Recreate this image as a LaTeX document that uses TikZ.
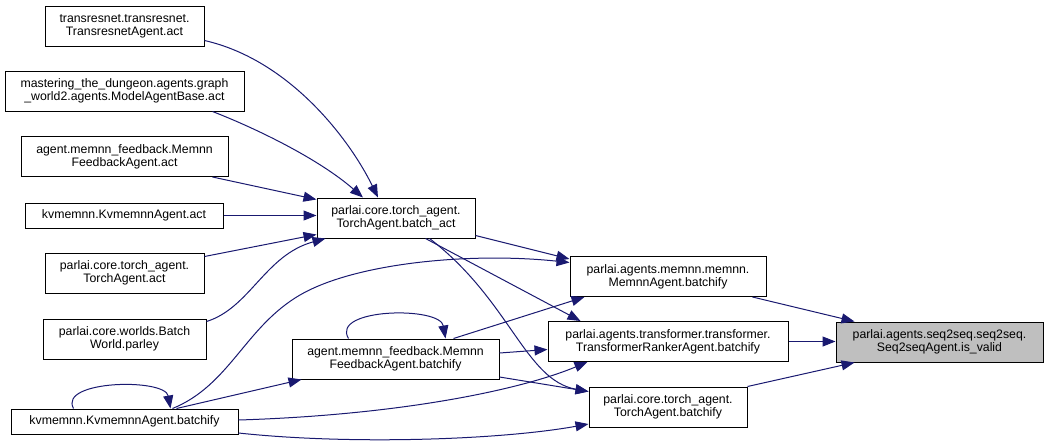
\documentclass[tikz,border=0pt]{standalone}
\usepackage{fontspec}
\setmainfont{Liberation Sans}
\usetikzlibrary{arrows.meta, calc}
\definecolor{callblue}{HTML}{191970}
\definecolor{hilite}{HTML}{BFBFBF}

\begin{document}
\begin{tikzpicture}[x=1pt, y=-1pt,
  fn/.style={draw=black, fill=white, line width=1pt, align=center, minimum height=40pt, inner sep=1pt, font={\fontsize{12.3}{12.7}\selectfont}},
  fnline/.style={fn, minimum height=25pt},
  call/.style={draw=callblue, line width=1pt, -{Triangle[length=13pt,width=10pt]}}]
  \useasboundingbox (0,0) rectangle (1048,447);
  % callers on the left
  \node[fn, minimum width=159pt] (trans) at (124.5,26) {transresnet.transresnet.\\TransresnetAgent.act};
  \node[fn, minimum width=239pt] (mast) at (124.5,91) {mastering\_the\_dungeon.agents.graph\\\_world2.agents.ModelAgentBase.act};
  \node[fn, minimum width=207pt] (fbact) at (124.5,156.5) {agent.memnn\_feedback.Memnn\\FeedbackAgent.act};
  \node[fnline, minimum width=198pt] (kvact) at (124,215.5) {kvmemnn.KvmemnnAgent.act};
  \node[fn, minimum width=159pt] (taact) at (124.5,273) {parlai.core.torch\_agent.\\TorchAgent.act};
  \node[fn, minimum width=163pt] (bwparley) at (124.5,339) {parlai.core.worlds.Batch\\World.parley};
  \node[fnline, minimum width=227pt] (kvbat) at (124.5,421.5) {kvmemnn.KvmemnnAgent.batchify};
  % middle
  \node[fn, minimum width=158pt] (batchact) at (396,218) {parlai.core.torch\_agent.\\TorchAgent.batch\_act};
  \node[fn, minimum width=207pt] (fbbat) at (395.5,359) {agent.memnn\_feedback.Memnn\\FeedbackAgent.batchify};
  \node[fn, minimum width=196pt] (memnnbat) at (668,276.5) {parlai.agents.memnn.memnn.\\MemnnAgent.batchify};
  \node[fn, minimum width=240pt] (transbat) at (668,341.5) {parlai.agents.transformer.transformer.\\TransformerRankerAgent.batchify};
  \node[fn, minimum width=158pt] (tabat) at (668,407) {parlai.core.torch\_agent.\\TorchAgent.batchify};
  \node[fn, fill=hilite, minimum width=207pt] (isvalid) at (939.5,342) {parlai.agents.seq2seq.seq2seq.\\Seq2seqAgent.is\_valid};

  % into batch_act
  \draw[call] ([yshift=6pt]trans.south east) .. controls (290,60) and (350,140) .. ([xshift=-18pt]batchact.north);
  \draw[call] ([xshift=-32pt]mast.south east) .. controls (260,130) and (320,160) .. ([xshift=-33pt]batchact.north);
  \draw[call] ([xshift=-16pt]fbact.south east) -- ([yshift=-2pt]batchact.north west);
  \draw[call] (kvact.east) -- (kvact.east -| batchact.west);
  \draw[call] ([yshift=-4pt]taact.north east) -- ([yshift=4pt]batchact.south west);
  \draw[call] ([yshift=-3pt]bwparley.north east) .. controls (250,308) and (265,255) .. ([xshift=9pt]batchact.south west);

  % out of batch_act
  \draw[call] ([yshift=3pt]batchact.south east) -- ([yshift=-3pt]memnnbat.north west);
  \draw[call] ([xshift=-50pt]batchact.south east) -- ([xshift=33pt]transbat.north west);
  \draw[call] ([xshift=-46pt]batchact.south east) .. controls (510,300) and (525,380) .. ([yshift=-5pt]tabat.north west);

  % out of kvmemnn batchify
  \draw[call] ([xshift=-51pt]kvbat.north) .. controls (58,380) and (165,378) .. ([xshift=46pt]kvbat.north);
  \draw[call] ([xshift=48pt]kvbat.north) .. controls (230,385) and (245,327) .. (300,295) .. controls (355,263) and (470,252) .. ([yshift=14pt]memnnbat.west);
  \draw[call] ([xshift=52pt]kvbat.north) -- ([xshift=10pt]fbbat.south west);
  \draw[call] ([yshift=1.5pt]kvbat.east) .. controls (400,415) and (520,390) .. ([xshift=40pt]transbat.south west);
  \draw[call] ([yshift=-11.5pt]kvbat.east) .. controls (350,445) and (500,440) .. ([yshift=-17pt]tabat.west);

  % out of feedback batchify
  \draw[call] ([xshift=-47pt]fbbat.north) .. controls (330,308) and (440,306) .. ([xshift=50pt]fbbat.north);
  \draw[call] ([xshift=58pt]fbbat.north) -- ([xshift=15pt]memnnbat.south west);
  \draw[call] ([yshift=6pt]fbbat.east) -- ([yshift=-8pt]transbat.west);
  \draw[call] ([yshift=-18pt]fbbat.east) -- ([yshift=-5pt]tabat.north west);

  % into is_valid
  \draw[call] ([xshift=-14pt]memnnbat.south east) -- ([xshift=19pt]isvalid.north west);
  \draw[call] (transbat.east) -- (transbat.east -| isvalid.west);
  \draw[call] (tabat.north east) -- ([xshift=19pt]isvalid.south west);
\end{tikzpicture}
\end{document}
